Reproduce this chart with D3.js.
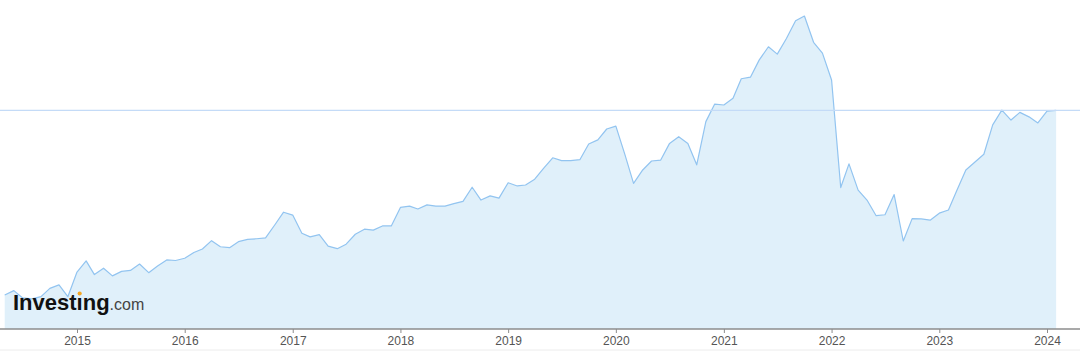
<!DOCTYPE html>
<html>
<head>
<meta charset="utf-8">
<script src="https://cdn.jsdelivr.net/npm/d3@7"></script>
<style>
    html, body { margin: 0; padding: 0; background: #fff; }
    svg { display: block; }
</style>
</head>
<body>
<div id="chart"></div>
<script>
// monthly closes, May 2014 .. Feb 2024
const startMonth = new Date(2014, 4, 1);
const closes = [
    20.6, 22.0, 19.7, 19.4, 20.1, 22.7, 23.8, 20.1,
    27.8, 31.3, 27.0, 29.0, 26.6, 28.0, 28.3, 30.3, 27.6, 29.7, 31.6, 31.4,
    32.1, 33.9, 35.0, 37.6, 35.7, 35.4, 37.3, 38.0, 38.2, 38.5, 42.5, 46.5,
    45.6, 39.9, 38.8, 39.5, 35.9, 35.1, 36.5, 39.6, 41.2, 40.9, 42.2, 42.2,
    48.0, 48.4, 47.5, 48.8, 48.4, 48.4, 49.2, 49.9, 54.3, 50.3, 51.6, 50.9,
    55.7, 54.7, 55.0, 56.8, 60.2, 63.5, 62.6, 62.6, 62.9, 67.8, 69.1, 72.5,
    73.4, 64.4, 55.5, 59.7, 62.5, 62.8, 68.0, 70.1, 68.0, 61.3, 74.8, 80.3,
    80.0, 82.1, 88.2, 88.7, 94.1, 98.2, 95.9, 100.8, 106.3, 107.8, 99.6, 96.2,
    87.8, 54.2, 61.6, 53.4, 50.3, 45.4, 45.7, 52.0, 37.5, 44.5, 44.4, 44.0,
    46.2, 47.2, 53.2, 59.7, 62.1, 64.6, 73.8, 78.4, 75.3, 77.7, 76.3, 74.4,
    78.1, 78.3
];
const tickYears = [2015, 2016, 2017, 2018, 2019, 2020, 2021, 2022, 2023, 2024];

const data = closes.map((v, i) => ({
    date: d3.timeMonth.offset(startMonth, i),
    value: v
}));

const width = 1080;
const height = 351;
const axisY = 329;

const svg = d3.select("#chart")
    .append("svg")
    .attr("width", width)
    .attr("height", height);

const x = d3.scaleTime()
    .domain([new Date(2015, 0, 1), new Date(2024, 0, 1)])
    .range([77, 1047]);

const y = d3.scaleLinear()
    .domain([10, 110])
    .range([axisY, 9]);

const area = d3.area()
    .x((d) => x(d.date))
    .y0(axisY)
    .y1((d) => y(d.value));

const line = d3.line()
    .x((d) => x(d.date))
    .y((d) => y(d.value));

svg.append("path")
    .datum(data)
    .attr("d", area)
    .style("fill", "#e0f0fa");

svg.append("path")
    .datum(data)
    .attr("d", line)
    .style("fill", "none")
    .style("stroke", "#92c4f0")
    .style("stroke-width", 1.2)
    .style("stroke-linejoin", "round");

// last price line
const last = closes[closes.length - 1];
svg.append("line")
    .attr("x1", 0)
    .attr("x2", width)
    .attr("y1", y(last))
    .attr("y2", y(last))
    .style("stroke", "#c4dbf7")
    .style("stroke-width", 1.2);

// x axis
const xAxis = d3.axisBottom(x)
    .tickValues(tickYears.map((yr) => new Date(yr, 0, 1)))
    .tickFormat(d3.timeFormat("%Y"))
    .tickSize(4)
    .tickSizeOuter(0);

const gx = svg.append("g")
    .attr("transform", `translate(0,${axisY})`)
    .call(xAxis);

gx.select(".domain").remove();
gx.insert("line", ":first-child")
    .attr("x1", 0)
    .attr("x2", width)
    .style("stroke", "#8c8c8c")
    .style("stroke-width", 1.5);
gx.selectAll(".tick line").style("stroke", "#8c8c8c");
gx.selectAll(".tick text")
    .attr("y", 7)
    .style("font-family", "'Liberation Sans', Arial, sans-serif")
    .style("font-size", "12px")
    .style("fill", "#555");

svg.append("line")
    .attr("x1", 0)
    .attr("x2", width)
    .attr("y1", 350)
    .attr("y2", 350)
    .style("stroke", "#ececec");

// watermark, the i in "ting" gets an orange dot
const logoX = 13, logoY = 310;
const logo = svg.append("text")
    .attr("x", logoX)
    .attr("y", logoY)
    .style("font-family", "'Liberation Sans', Arial, sans-serif");

logo.append("tspan")
    .text("Invest\u0131ng")
    .style("font-weight", "bold")
    .style("font-size", "22px")
    .style("fill", "#111");

logo.append("tspan")
    .text(".com")
    .style("font-size", "16px")
    .style("fill", "#444");

const node = logo.node();
const iStart = node.getSubStringLength(0, 6);
const iWidth = node.getSubStringLength(6, 1);
svg.append("circle")
    .attr("cx", logoX + iStart + iWidth / 2)
    .attr("cy", logoY - 16.5)
    .attr("r", 2.1)
    .style("fill", "#f5a623");
</script>
</body>
</html>
